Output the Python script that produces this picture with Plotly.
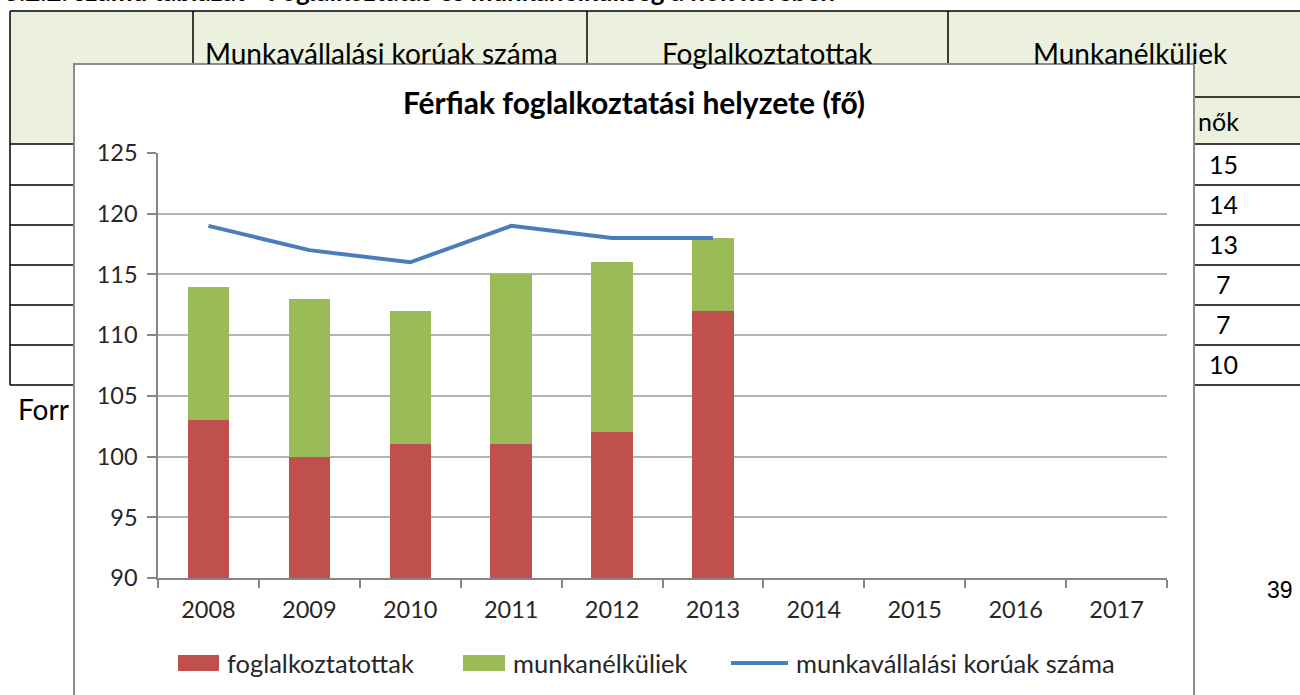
import plotly.graph_objects as go

# ---- data ----
years = ["2008", "2009", "2010", "2011", "2012", "2013", "2014", "2015", "2016", "2017"]
data_years = ["2008", "2009", "2010", "2011", "2012", "2013"]
foglalkoztatottak = [103, 100, 101, 101, 102, 112]
munkanelkuliek = [11, 13, 11, 14, 14, 6]
munkavallalasi_koruak = [119, 117, 116, 119, 118, 118]
y_ticks = [90, 95, 100, 105, 110, 115, 120, 125]

title_text = "Férfiak foglalkoztatási helyzete (fő)"
legend_names = ["foglalkoztatottak", "munkanélküliek", "munkavállalási korúak száma"]
table_heads = ["Munkavállalási korúak száma", "Foglalkoztatottak", "Munkanélküliek"]
nok_values = ["15", "14", "13", "7", "7", "10"]

RED = "#C0504D"
GREEN = "#9BBB59"
BLUE = "#4A7EBB"
FONT = "Lato"
W, H = 1300, 695
L, R, T, B = 158, 1167, 153, 578   # plot area in pixels


def px(x):
    return (x - L) / (R - L)


def py(y):
    return (B - y) / (B - T)


fig = go.Figure()
fig.add_trace(go.Bar(x=data_years, y=foglalkoztatottak, name=legend_names[0],
                     marker=dict(color=RED, line=dict(width=0))))
fig.add_trace(go.Bar(x=data_years, y=munkanelkuliek, name=legend_names[1],
                     marker=dict(color=GREEN, line=dict(width=0))))
fig.add_trace(go.Scatter(x=data_years, y=munkavallalasi_koruak, name=legend_names[2],
                         mode="lines", line=dict(color=BLUE, width=4)))

shapes = []
ann = []

# ---- background document table ----
HDR = "#EBF1DE"
shapes.append(dict(type="rect", xref="paper", yref="paper", layer="below",
                   x0=px(10), x1=px(1310), y0=py(11), y1=py(144),
                   fillcolor=HDR, line=dict(width=0)))
line_style = dict(color="black", width=1.5)
for yy in [11, 144, 185, 225, 265, 305, 345, 385]:
    shapes.append(dict(type="line", xref="paper", yref="paper", layer="below",
                       x0=px(10), x1=px(1310), y0=py(yy), y1=py(yy), line=line_style))
shapes.append(dict(type="line", xref="paper", yref="paper", layer="below",
                   x0=px(948), x1=px(1310), y0=py(97), y1=py(97), line=line_style))
shapes.append(dict(type="line", xref="paper", yref="paper", layer="below",
                   x0=px(10), x1=px(10), y0=py(11), y1=py(385), line=line_style))
for xx in [193, 587, 948]:
    shapes.append(dict(type="line", xref="paper", yref="paper", layer="below",
                       x0=px(xx), x1=px(xx), y0=py(11), y1=py(144), line=line_style))

# chart area box
shapes.append(dict(type="rect", xref="paper", yref="paper", layer="below",
                   x0=px(74), x1=px(1194), y0=py(64), y1=py(720),
                   fillcolor="white", line=dict(color="#8C8C8C", width=2)))

# table texts
doc_font = dict(family=FONT, size=28, color="black")
num_font = dict(family=FONT, size=25, color="black")
ann.append(dict(text="<b>3.2.2. számú táblázat - Foglalkoztatás és munkanélküliség a nők körében</b>",
                x=px(2), y=py(-9), xref="paper", yref="paper", xanchor="left", yanchor="middle",
                showarrow=False, font=dict(family=FONT, size=26, color="black")))
for head, xc in zip(table_heads, [381, 767, 1130]):
    ann.append(dict(text=head, x=px(xc), y=py(53), xref="paper", yref="paper",
                    xanchor="center", yanchor="middle", showarrow=False, font=doc_font))
ann.append(dict(text="nők", x=px(1196), y=py(121), xref="paper", yref="paper",
                xanchor="left", yanchor="middle", showarrow=False, font=num_font))
row_centres = [164, 204, 244, 284, 324, 364]
for v, yc in zip(nok_values, row_centres):
    ann.append(dict(text=v, x=px(1207 if len(v) == 2 else 1214), y=py(yc),
                    xref="paper", yref="paper", xanchor="left", yanchor="middle",
                    showarrow=False, font=num_font))
ann.append(dict(text="Forr", x=px(16), y=py(409), xref="paper", yref="paper",
                xanchor="left", yanchor="middle", showarrow=False, font=doc_font))
ann.append(dict(text="39", x=px(1280), y=py(590), xref="paper", yref="paper",
                xanchor="center", yanchor="middle", showarrow=False,
                font=dict(family="Liberation Sans", size=23, color="black")))

# ---- custom legend ----
LY = 663
shapes.append(dict(type="rect", xref="paper", yref="paper", x0=px(178), x1=px(219),
                   y0=py(LY - 8), y1=py(LY + 8), fillcolor=RED, line=dict(width=0)))
shapes.append(dict(type="rect", xref="paper", yref="paper", x0=px(463), x1=px(505),
                   y0=py(LY - 8), y1=py(LY + 8), fillcolor=GREEN, line=dict(width=0)))
shapes.append(dict(type="line", xref="paper", yref="paper", x0=px(731), x1=px(788),
                   y0=py(LY), y1=py(LY), line=dict(color=BLUE, width=4)))
leg_font = dict(family=FONT, size=25.5, color="#262626")
for xs, name in zip([225, 511, 794], legend_names):
    ann.append(dict(text=name, x=px(xs), y=py(LY), xref="paper", yref="paper",
                    xanchor="left", yanchor="middle", showarrow=False, font=leg_font))

tick_font = dict(family=FONT, size=23.5, color="#262626")
fig.update_layout(
    width=W, height=H,
    margin=dict(l=L, r=W - R, t=T, b=H - B, pad=0),
    paper_bgcolor="white", plot_bgcolor="rgba(0,0,0,0)",
    barmode="stack", bargap=0.59,
    showlegend=False,
    title=dict(text="<b>" + title_text + "</b>", x=634 / W, y=1 - 103 / H,
               xanchor="center", yanchor="middle",
               font=dict(family=FONT, size=30, color="#000000")),
    shapes=shapes, annotations=ann,
    font=dict(family=FONT, size=22, color="#262626"),
)
fig.update_xaxes(type="category", categoryorder="array", categoryarray=years,
                 range=[-0.5, 9.5], showgrid=False, showline=True, linecolor="#868686",
                 linewidth=1.5, ticks="outside", tickson="boundaries", ticklen=8,
                 tickcolor="#868686", tickwidth=1.5, tickfont=tick_font,
                 ticklabelstandoff=10, zeroline=False)
fig.update_yaxes(range=[90, 125], tickvals=y_ticks, showgrid=True, gridcolor="#B3B3B3",
                 gridwidth=1.5, showline=True, linecolor="#868686", linewidth=1.5,
                 ticks="outside", ticklen=9, tickcolor="#868686", tickwidth=1.5,
                 tickfont=tick_font, ticklabelstandoff=5, zeroline=False)

fig.write_html("out.html", config={"displayModeBar": False},
               post_script="document.body.style.margin='0';document.body.style.overflow='hidden';")
